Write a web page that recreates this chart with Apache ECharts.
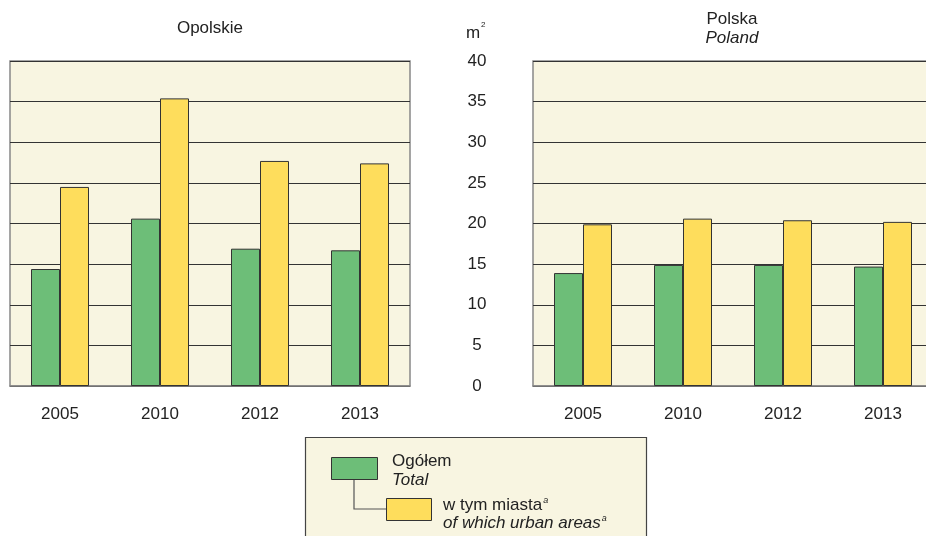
<!DOCTYPE html>
<html>
<head>
<meta charset="utf-8">
<script src="https://cdn.jsdelivr.net/npm/echarts@6/dist/echarts.min.js"></script>
<style>
html,body{margin:0;padding:0;background:#fff;overflow:hidden;width:926px;height:536px;}
#chart{width:940px;height:536px;}
</style>
</head>
<body>
<div id="chart"></div>
<script>
const categories = ['2005', '2010', '2012', '2013'];
const opolskieTotal = [14.4, 20.6, 16.9, 16.7];
const opolskieUrban = [24.5, 35.4, 27.7, 27.4];
const polskaTotal = [13.9, 14.9, 14.9, 14.7];
const polskaUrban = [19.9, 20.6, 20.4, 20.2];
const yMin = 0, yMax = 40, yStep = 5;

const FONT = '"Liberation Sans", Arial, sans-serif';
const FS = 17;
const GREEN = '#6dbe78';
const YELLOW = '#fedd5c';
const BG = '#f8f5e1';
const TXT = '#222';

const chart = echarts.init(document.getElementById('chart'), null, {renderer: 'canvas'});

function xAxisFor(idx) {
  return {
    type: 'category', gridIndex: idx, data: categories,
    axisLine: {show: true, lineStyle: {color: '#888', width: 1.5}},
    axisTick: {show: false},
    axisLabel: {color: TXT, fontSize: FS, fontFamily: FONT, margin: 20}
  };
}
function yAxisFor(idx, showLabels) {
  return {
    type: 'value', gridIndex: idx, min: yMin, max: yMax, interval: yStep,
    axisLine: {show: false}, axisTick: {show: false},
    axisLabel: {show: showLabels, color: TXT, fontSize: FS, fontFamily: FONT, align: 'center', margin: 56},
    splitLine: {show: true, lineStyle: {color: '#333', width: 1.2}}
  };
}
function barSeries(data, color, idx) {
  return {
    type: 'bar', xAxisIndex: idx, yAxisIndex: idx, data: data,
    barWidth: 29, barGap: '0%',
    itemStyle: {color: color, borderColor: '#333', borderWidth: 1},
    emphasis: {disabled: true}
  };
}
const supRich = {s: {fontSize: 9, fontStyle: 'italic', fontFamily: FONT, verticalAlign: 'top', padding: [0, 0, 9, 1], fill: TXT}};

chart.setOption({
  animation: false,
  backgroundColor: '#fff',
  textStyle: {fontFamily: FONT},
  grid: [
    {left: 10, top: 61, width: 400, height: 325, show: true, backgroundColor: BG, borderColor: '#888', borderWidth: 1.5},
    {left: 533, top: 61, width: 400, height: 325, show: true, backgroundColor: BG, borderColor: '#888', borderWidth: 1.5}
  ],
  xAxis: [xAxisFor(0), xAxisFor(1)],
  yAxis: [yAxisFor(0, false), yAxisFor(1, true)],
  series: [
    barSeries(opolskieTotal, GREEN, 0),
    barSeries(opolskieUrban, YELLOW, 0),
    barSeries(polskaTotal, GREEN, 1),
    barSeries(polskaUrban, YELLOW, 1)
  ],
  graphic: [
    {type: 'text', x: 210, y: 28, style: {text: 'Opolskie', fill: TXT, font: FS + 'px ' + FONT, align: 'center', verticalAlign: 'middle'}},
    {type: 'text', x: 732, y: 19, style: {text: 'Polska', fill: TXT, font: FS + 'px ' + FONT, align: 'center', verticalAlign: 'middle'}},
    {type: 'text', x: 732, y: 38, style: {text: 'Poland', fill: TXT, font: 'italic ' + FS + 'px ' + FONT, align: 'center', verticalAlign: 'middle'}},
    {type: 'text', x: 466, y: 33, style: {text: 'm', fill: TXT, font: FS + 'px ' + FONT, align: 'left', verticalAlign: 'middle'}},
    {type: 'text', x: 481, y: 25, style: {text: '2', fill: TXT, font: '8px ' + FONT, align: 'left', verticalAlign: 'middle'}},
    // legend box
    {type: 'rect', shape: {x: 305.5, y: 437.5, width: 341, height: 120}, style: {fill: BG, stroke: '#444', lineWidth: 1.2}},
    {type: 'polyline', shape: {points: [[354, 480], [354, 509], [386, 509]]}, style: {stroke: '#555', lineWidth: 1.2, fill: null}},
    {type: 'rect', shape: {x: 331.5, y: 457.5, width: 46, height: 22}, style: {fill: GREEN, stroke: '#333', lineWidth: 1}},
    {type: 'rect', shape: {x: 386.5, y: 498.5, width: 45, height: 22}, style: {fill: YELLOW, stroke: '#333', lineWidth: 1}},
    {type: 'text', x: 392, y: 461, style: {text: 'Ogółem', fill: TXT, font: FS + 'px ' + FONT, verticalAlign: 'middle'}},
    {type: 'text', x: 392, y: 480, style: {text: 'Total', fill: TXT, font: 'italic ' + FS + 'px ' + FONT, verticalAlign: 'middle'}},
    {type: 'text', x: 443, y: 505, style: {
      text: 'w tym miasta{s|a}', fill: TXT, font: FS + 'px ' + FONT, verticalAlign: 'middle', rich: supRich
    }},
    {type: 'text', x: 443, y: 523, style: {
      text: 'of which urban areas{s|a}', fill: TXT, font: 'italic ' + FS + 'px ' + FONT, verticalAlign: 'middle', rich: supRich
    }}
  ]
});
</script>
</body>
</html>
